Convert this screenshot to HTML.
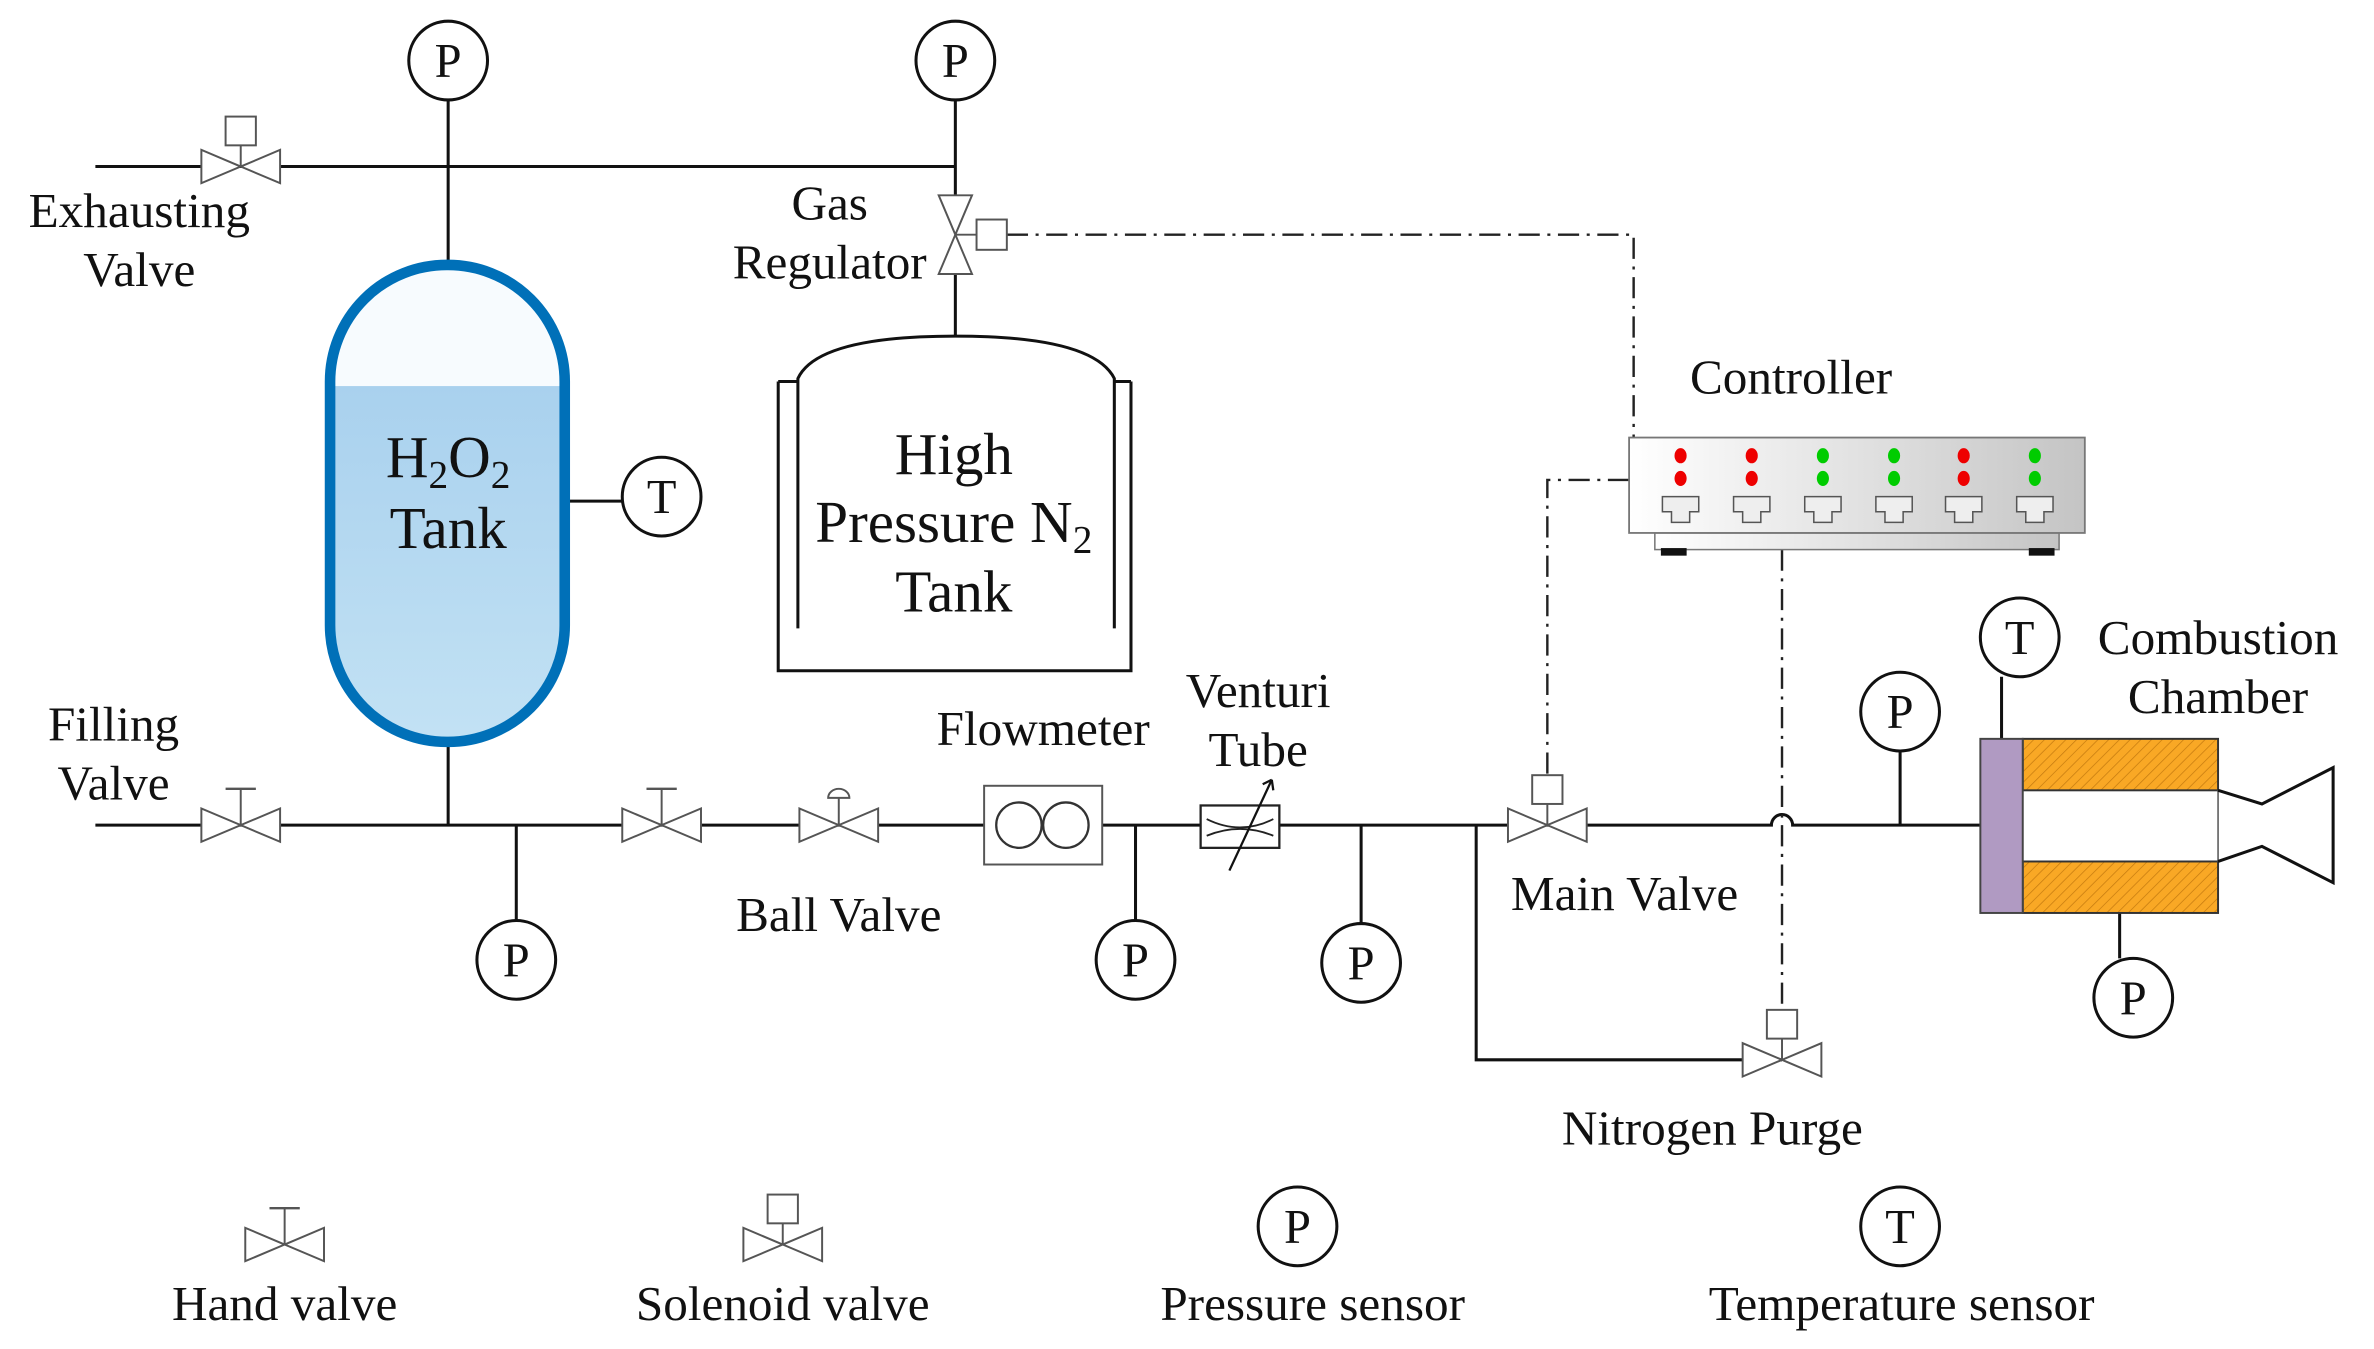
<!DOCTYPE html>
<html><head><meta charset="utf-8"><style>
html,body{margin:0;padding:0;background:#fff;}
svg{display:block;}
text{font-family:"Liberation Serif",serif;fill:#111;}
</style></head><body>
<svg width="2374" height="1349" viewBox="0 0 1568 891" preserveAspectRatio="none" xmlns="http://www.w3.org/2000/svg">
<defs>
<linearGradient id="liq" x1="0" y1="0" x2="0" y2="1"><stop offset="0" stop-color="#a9d1ee"/><stop offset="1" stop-color="#c3e2f4"/></linearGradient>
<linearGradient id="box" x1="0" y1="0" x2="1" y2="0"><stop offset="0" stop-color="#ffffff"/><stop offset="1" stop-color="#c4c4c4"/></linearGradient>
<pattern id="hatch" width="5" height="5" patternUnits="userSpaceOnUse" patternTransform="rotate(45)"><rect width="5" height="5" fill="#f9a825"/><line x1="0" y1="0" x2="0" y2="5" stroke="#c77d10" stroke-width="1"/></pattern>
<clipPath id="tankclip"><rect x="218" y="175" width="155" height="315" rx="77" ry="77"/></clipPath>
<g id="bow"><polygon points="-26,-11 -26,11 0,0" fill="#fff" stroke="#555" stroke-width="1.3"/><polygon points="26,-11 26,11 0,0" fill="#fff" stroke="#555" stroke-width="1.3"/></g>
<g id="hand"><use href="#bow"/><line x1="0" y1="0" x2="0" y2="-24" stroke="#555" stroke-width="1.3"/><line x1="-10" y1="-24" x2="10" y2="-24" stroke="#555" stroke-width="1.5"/></g>
<g id="sol"><use href="#bow"/><line x1="0" y1="0" x2="0" y2="-14" stroke="#555" stroke-width="1.3"/><rect x="-10" y="-33" width="20" height="19" fill="#fff" stroke="#555" stroke-width="1.3"/></g>
<g id="port"><path d="M-12,-8 h24 v10 h-6 v7 h-12 v-7 h-6 z" fill="#eee" stroke="#555" stroke-width="1"/></g>
</defs>
<g stroke="#111" stroke-width="2" fill="none">
<line x1="63" y1="110" x2="631" y2="110"/>
<line x1="296" y1="66" x2="296" y2="175"/>
<line x1="631" y1="66" x2="631" y2="130"/>
<line x1="631" y1="180" x2="631" y2="222"/>
<path d="M63,545 H1170 A7,7 0 0 1 1184,545 H1308"/>
<line x1="296" y1="490" x2="296" y2="545"/>
<line x1="341" y1="545" x2="341" y2="608"/>
<line x1="750" y1="545" x2="750" y2="608"/>
<line x1="899" y1="545" x2="899" y2="610"/>
<path d="M975,545 V700 H1177"/>
<line x1="1255" y1="496" x2="1255" y2="545"/>
<line x1="1322" y1="447" x2="1322" y2="488"/>
<line x1="1400" y1="603" x2="1400" y2="633"/>
<line x1="373" y1="331" x2="411" y2="331"/>
</g>
<g stroke="#222" stroke-width="1.6" fill="none" stroke-dasharray="14,5,2,5">
<path d="M665,155 H1079 V289"/>
<path d="M1076,317 H1022 V512"/>
<path d="M1177,363 V667"/>
</g>
<g clip-path="url(#tankclip)"><rect x="218" y="175" width="155" height="315" fill="#f7fbfe"/><rect x="218" y="255" width="155" height="240" fill="url(#liq)"/></g>
<rect x="218" y="175" width="155" height="315" rx="77" ry="77" fill="none" stroke="#0070b8" stroke-width="7"/>
<g stroke="#111" stroke-width="2" fill="none">
<path d="M514,252 H527 M736,252 H747 M514,252 V443 H747 V252"/>
<path d="M527,415 V250 Q540,222 631,222 Q722,222 736,250 V415"/>
</g>
<use href="#sol" x="159" y="110"/>
<use href="#hand" x="159" y="545"/>
<use href="#hand" x="437" y="545"/>
<g transform="translate(554,545)"><use href="#bow"/><line x1="0" y1="0" x2="0" y2="-18" stroke="#555" stroke-width="1.3"/><path d="M-7,-18 A7,6 0 0 1 7,-18 Z" fill="#fff" stroke="#555" stroke-width="1.3"/></g>
<use href="#sol" x="1022" y="545"/>
<use href="#sol" x="1177" y="700"/>
<g transform="translate(631,155) rotate(90)"><use href="#bow"/></g>
<line x1="631" y1="155" x2="645" y2="155" stroke="#555" stroke-width="1.3"/>
<rect x="645" y="145" width="20" height="20" fill="#fff" stroke="#555" stroke-width="1.3"/>
<rect x="650" y="519" width="78" height="52" fill="#fff" stroke="#555" stroke-width="1.3"/>
<circle cx="673" cy="545" r="15" fill="#fff" stroke="#333" stroke-width="1.5"/>
<circle cx="704" cy="545" r="15" fill="#fff" stroke="#333" stroke-width="1.5"/>
<rect x="793" y="532" width="52" height="28" fill="#fff" stroke="#222" stroke-width="1.5"/>
<path d="M797,541 Q819,552 841,541 M797,552 Q819,543 841,552" stroke="#222" stroke-width="1.2" fill="none"/>
<line x1="812" y1="575" x2="840" y2="515" stroke="#111" stroke-width="1.5"/>
<path d="M840,515 L834,518 M840,515 L841,522" stroke="#111" stroke-width="1.5"/>
<rect x="1093" y="352" width="267" height="11" fill="url(#box)" stroke="#777" stroke-width="1"/>
<rect x="1097" y="362" width="17" height="5" fill="#111"/><rect x="1340" y="362" width="17" height="5" fill="#111"/>
<rect x="1076" y="289" width="301" height="63" fill="url(#box)" stroke="#777" stroke-width="1.2"/>
<g>
<ellipse cx="1110" cy="301" rx="4" ry="5" fill="#e00"/><ellipse cx="1110" cy="316" rx="4" ry="5" fill="#e00"/>
<ellipse cx="1157" cy="301" rx="4" ry="5" fill="#e00"/><ellipse cx="1157" cy="316" rx="4" ry="5" fill="#e00"/>
<ellipse cx="1204" cy="301" rx="4" ry="5" fill="#0c0"/><ellipse cx="1204" cy="316" rx="4" ry="5" fill="#0c0"/>
<ellipse cx="1251" cy="301" rx="4" ry="5" fill="#0c0"/><ellipse cx="1251" cy="316" rx="4" ry="5" fill="#0c0"/>
<ellipse cx="1297" cy="301" rx="4" ry="5" fill="#e00"/><ellipse cx="1297" cy="316" rx="4" ry="5" fill="#e00"/>
<ellipse cx="1344" cy="301" rx="4" ry="5" fill="#0c0"/><ellipse cx="1344" cy="316" rx="4" ry="5" fill="#0c0"/>
</g>
<use href="#port" x="1110" y="336"/><use href="#port" x="1157" y="336"/><use href="#port" x="1204" y="336"/>
<use href="#port" x="1251" y="336"/><use href="#port" x="1297" y="336"/><use href="#port" x="1344" y="336"/>
<rect x="1336" y="488" width="129" height="34" fill="url(#hatch)" stroke="#333" stroke-width="1.3"/>
<rect x="1336" y="569" width="129" height="34" fill="url(#hatch)" stroke="#333" stroke-width="1.3"/>
<line x1="1465" y1="522" x2="1465" y2="569" stroke="#555" stroke-width="1"/>
<rect x="1308" y="488" width="28" height="115" fill="#b09ac2" stroke="#444" stroke-width="1.3"/>
<path d="M1465,522 L1494,531 L1541,507 V583 L1494,559 L1465,569" fill="none" stroke="#111" stroke-width="2"/>
<g fill="#fff" stroke="#111" stroke-width="2">
<circle cx="296" cy="40" r="26"/><circle cx="631" cy="40" r="26"/>
<circle cx="437" cy="328" r="26"/>
<circle cx="341" cy="634" r="26"/><circle cx="750" cy="634" r="26"/><circle cx="899" cy="636" r="26"/>
<circle cx="1255" cy="470" r="26"/><circle cx="1334" cy="421" r="26"/><circle cx="1409" cy="659" r="26"/>
<circle cx="857" cy="810" r="26"/><circle cx="1255" cy="810" r="26"/>
</g>
<g font-size="32" text-anchor="middle">
<text x="296" y="51">P</text><text x="631" y="51">P</text><text x="437" y="339">T</text>
<text x="341" y="645">P</text><text x="750" y="645">P</text><text x="899" y="647">P</text>
<text x="1255" y="481">P</text><text x="1334" y="432">T</text><text x="1409" y="670">P</text>
<text x="857" y="821">P</text><text x="1255" y="821">T</text>
</g>
<use href="#hand" x="188" y="822"/>
<use href="#sol" x="517" y="822"/>
<g font-size="32.5" text-anchor="middle">
<text x="92" y="150">Exhausting</text><text x="92" y="189">Valve</text>
<text x="548" y="145">Gas</text><text x="548" y="184">Regulator</text>
<text x="1183" y="260">Controller</text>
<text x="75" y="489">Filling</text><text x="75" y="528">Valve</text>
<text x="689" y="492">Flowmeter</text>
<text x="831" y="467">Venturi</text><text x="831" y="506">Tube</text>
<text x="554" y="615">Ball Valve</text>
<text x="1073" y="601">Main Valve</text>
<text x="1465" y="432">Combustion</text><text x="1465" y="471">Chamber</text>
<text x="1131" y="756">Nitrogen Purge</text>
<text x="188" y="872">Hand valve</text><text x="517" y="872">Solenoid valve</text>
<text x="867" y="872">Pressure sensor</text><text x="1256" y="872">Temperature sensor</text>
</g>
<g font-size="39" text-anchor="middle">
<text x="296" y="315">H<tspan font-size="26" dy="7">2</tspan><tspan dy="-7">O</tspan><tspan font-size="26" dy="7">2</tspan></text>
<text x="296" y="362">Tank</text>
<text x="630" y="313">High</text>
<text x="630" y="358">Pressure N<tspan font-size="26" dy="7">2</tspan></text>
<text x="630" y="404">Tank</text>
</g>
</svg>
</body></html>
